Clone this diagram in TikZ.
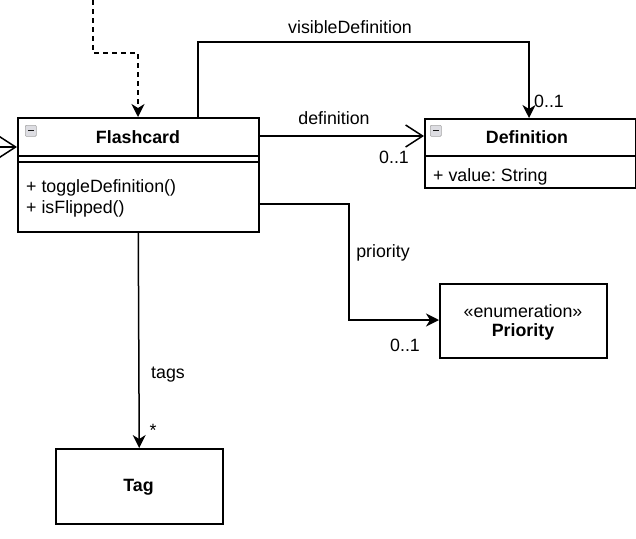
\documentclass[tikz,border=0pt]{standalone}
\usepackage{fontspec}
\setmainfont{Liberation Sans}
\usetikzlibrary{arrows.meta}
\frenchspacing
\begin{document}
\begin{tikzpicture}[x=1pt,y=-1pt,
  every node/.style={font=\fontsize{17.8}{21}\selectfont, inner sep=0pt},
  bold/.style={font=\fontsize{17.8}{21}\selectfont\bfseries},
  box/.style={draw, line width=1.5pt, anchor=north west, minimum width=#1},
  conn/.style={line width=1.5pt},
  filledtip/.style={-{Stealth[length=13pt,width=13pt,inset=4pt]}},
  opentip/.style={-{Straight Barb[length=17pt,width=22pt,line width=1.5pt]}},
  icon/.style={draw=gray!70, fill=blue!8!gray!25, rounded corners=1pt, line width=0.6pt, minimum width=11pt, minimum height=11pt, anchor=north west}
]
\useasboundingbox (0,0) rectangle (636,538);

% Flashcard
\node[box=241pt, minimum height=114pt] (flash) at (17,117) {};
\node[bold] (flashT) at (138,137) {Flashcard};
\draw[line width=1.5pt] (17,156) -- (258,156) (17,162) -- (258,162);
\node[anchor=west] (m1) at (26,188) {+ toggleDefinition()};
\node[anchor=west] (m2) at (26,209) {+ isFlipped()};
\node[icon] (ic1) at (25,125) {};
\draw[line width=1.2pt, gray!20!black] ([xshift=3pt]ic1.center) -- ([xshift=-3pt]ic1.center);

% Definition
\node[box=211pt, minimum height=69pt] (defn) at (424,118) {};
\node[bold] (defT) at (527,137) {Definition};
\draw[line width=1.5pt] (424,156) -- (635,156);
\node[anchor=west] (v1) at (433,177) {+ value: String};
\node[icon] (ic2) at (430,125) {};
\draw[line width=1.2pt, gray!20!black] ([xshift=3pt]ic2.center) -- ([xshift=-3pt]ic2.center);

% Priority
\node[box=167pt, minimum height=74pt] (prio) at (439,283) {};
\node (prioS) at (523,311) {«enumeration»};
\node[bold] (prioT) at (523,332) {Priority};

% Tag
\node[box=167pt, minimum height=75pt] (tag) at (55,448) {};
\node[bold] (tagT) at (138.5,487) {Tag};

% connectors
\coordinate (leftin) at (0,147);
\draw[conn, opentip] (leftin) -- (leftin -| flash.west);

\coordinate (dtop) at (93,0);
\draw[conn, dashed, dash pattern=on 5pt off 4pt, filledtip] (dtop) -- (93,53) -- (138,53) -- (138,117);

\coordinate (vs) at (198,117);
\draw[conn, filledtip] (vs) -- (198,42) -- (529,42) -- (529,118);

\coordinate (ds) at (258,136);
\draw[conn, opentip] (ds) -- (ds -| defn.west);

\coordinate (ps) at (258,204);
\coordinate (pc) at (349,320);
\draw[conn, filledtip] (ps) -- (349,204) -- (pc) -- (pc -| prio.west);

\draw[conn, filledtip] (flash.south) -- (tag.north);

% labels
\node (l1) at (350,27) {visibleDefinition};
\node (l2) at (549,101) {0..1};
\node (l3) at (334,118) {definition};
\node (l4) at (394,157) {0..1};
\node (l5) at (383,253) {priority};
\node (l6) at (405,345) {0..1};
\node (l7) at (168,375) {tags};
\node (l8) at (153,430) {*};
\end{tikzpicture}
\end{document}
